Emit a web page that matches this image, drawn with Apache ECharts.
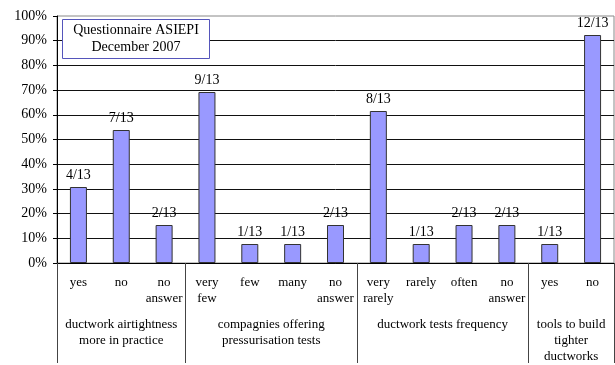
<!DOCTYPE html>
<html>
<head>
<meta charset="utf-8">
<script src="https://cdn.jsdelivr.net/npm/echarts@6/dist/echarts.min.js"></script>
<style>
  html, body { margin: 0; padding: 0; background: #fff; }
  #chart { width: 615px; height: 365px; }
</style>
</head>
<body>
<div id="chart"></div>
<script>
// answers per item, out of 13 replies
const categories = ['yes', 'no', 'no\nanswer', 'very\nfew', 'few', 'many', 'no\nanswer',
  'very\nrarely', 'rarely', 'often', 'no\nanswer', 'yes', 'no']
const counts = [4, 7, 2, 9, 1, 1, 2, 8, 1, 2, 2, 1, 12]
const total = 13
const groups = ['ductwork airtightness\nmore in practice', 'compagnies offering\npressurisation tests',
  'ductwork tests frequency', 'tools to build\ntighter\nductworks']
const groupBounds = [0, 3, 7, 11, 13]
const yTicks = [0, 10, 20, 30, 40, 50, 60, 70, 80, 90, 100]

const groupCenters = groups.map((g, i) => (groupBounds[i] + groupBounds[i + 1]) / 2)
const font = 'Liberation Serif, Times New Roman, serif'

const chart = echarts.init(document.getElementById('chart'))
chart.setOption({
  animation: false,
  backgroundColor: '#fff',
  textStyle: { fontFamily: font, color: '#000' },
  title: {
    text: 'Questionnaire ASIEPI\nDecember 2007',
    left: 125,
    top: 19,
    padding: [3, 11],
    borderColor: '#5555bb',
    borderWidth: 1,
    backgroundColor: '#fff',
    textAlign: 'center',
    textStyle: {
      fontFamily: font, fontSize: 14, fontWeight: 'normal', color: '#000',
      lineHeight: 17,
    },
  },
  grid: {
    left: 57, right: 1, top: 16, bottom: 98,
    show: true, borderColor: '#888', borderWidth: 1,
  },
  xAxis: [
    {
      type: 'category',
      data: categories,
      axisLine: { lineStyle: { color: '#000', width: 1 } },
      axisTick: { length: 43, interval: 0, lineStyle: { color: '#222' } },
      axisLabel: {
        interval: 0, margin: 12, fontSize: 13, lineHeight: 16,
        fontFamily: font, color: '#000',
      },
    },
    {
      type: 'value',
      position: 'bottom',
      min: 0,
      max: 13,
      axisLine: { show: false },
      splitLine: { show: false },
      axisTick: {
        show: true, length: 100, customValues: groupBounds,
        lineStyle: { color: '#444' },
      },
      axisLabel: {
        customValues: groupCenters,
        margin: 54, fontSize: 13, lineHeight: 16, fontFamily: font, color: '#000',
        formatter: v => groups[groupCenters.indexOf(v)] || '',
      },
    },
  ],
  yAxis: {
    type: 'value',
    min: 0,
    max: 100,
    interval: 10,
    axisLine: { show: true, lineStyle: { color: '#000' } },
    axisTick: { show: true, length: 4, lineStyle: { color: '#000' } },
    axisLabel: {
      margin: 10, fontSize: 14, fontFamily: font, color: '#000',
      formatter: v => (yTicks.includes(v) ? v + '%' : ''),
    },
    splitLine: { show: true, showMaxLine: false, lineStyle: { color: '#111', width: 1 } },
  },
  series: [
    {
      type: 'bar',
      xAxisIndex: 0,
      barWidth: 17,
      data: counts.map(c => (c / total) * 100),
      itemStyle: { color: '#9999ff', borderColor: '#333', borderWidth: 1 },
      label: {
        show: true, position: 'top', distance: 5,
        fontSize: 14, fontFamily: font, color: '#000',
        formatter: p => counts[p.dataIndex] + '/' + total,
      },
    },
  ],
})
</script>
</body>
</html>
